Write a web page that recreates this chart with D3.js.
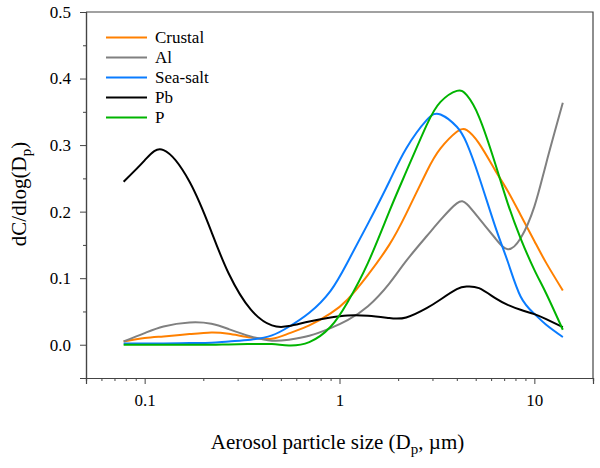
<!DOCTYPE html>
<html>
<head>
<meta charset="utf-8">
<script src="https://cdn.jsdelivr.net/npm/d3@7"></script>
<style>
  body { margin: 0; background: #fff; }
</style>
</head>
<body>
<svg id="chart" width="600" height="468"></svg>
<script>
// particle size (um) at which each curve was read
const sizes = [0.078, 0.1, 0.125, 0.17, 0.22, 0.27, 0.35, 0.45, 0.55, 0.7, 0.9, 1.1, 1.4,
               1.8, 2.2, 2.8, 3.3, 4.0, 4.5, 5.2, 6.3, 7.3, 8.5, 10, 11.5, 14];

const crustal = [0.005, 0.010, 0.0125, 0.016, 0.0185, 0.0165, 0.011, 0.009, 0.017, 0.029, 0.047, 0.068, 0.105,
                 0.150, 0.197, 0.260, 0.2950, 0.320, 0.3225, 0.3025, 0.262, 0.231, 0.195, 0.156, 0.123, 0.0815];
const al      = [0.005, 0.0175, 0.0275, 0.0335, 0.0315, 0.0235, 0.0125, 0.006, 0.0075, 0.0135, 0.025, 0.037, 0.058,
                 0.092, 0.126, 0.163, 0.1875, 0.2125, 0.2115, 0.190, 0.160, 0.1435, 0.160, 0.2075, 0.2725, 0.3635];
const seaSalt = [0.002, 0.002, 0.002, 0.0025, 0.003, 0.005, 0.0075, 0.014, 0.027, 0.048, 0.081, 0.124, 0.182,
                 0.245, 0.295, 0.3375, 0.346, 0.3275, 0.3025, 0.2525, 0.1775, 0.125, 0.0725, 0.0465, 0.030, 0.0115];
const pb      = [0.245, 0.277, 0.2925, 0.245, 0.170, 0.107, 0.053, 0.029, 0.028, 0.035, 0.041, 0.044, 0.0435,
                 0.040, 0.041, 0.055, 0.068, 0.0835, 0.0875, 0.085, 0.070, 0.060, 0.0525, 0.046, 0.0385, 0.0265];
const p       = [0.000, 0.000, 0.000, 0.000, 0.000, 0.0005, 0.001, 0.001, -0.001, 0.004, 0.027, 0.064, 0.123,
                 0.200, 0.260, 0.330, 0.365, 0.3815, 0.375, 0.3425, 0.272, 0.2125, 0.160, 0.1125, 0.077, 0.0225];

const seriesNames = ["Crustal", "Al", "Sea-salt", "Pb", "P"];
const seriesColors = ["#ff8000", "#808080", "#0a7cff", "#000000", "#00b400"];
const seriesValues = [crustal, al, seaSalt, pb, p];

const xMajor = [0.1, 1, 10];
const yTicks = [0.0, 0.1, 0.2, 0.3, 0.4, 0.5];

const serif = '"Liberation Serif", "DejaVu Serif", "Times New Roman", Times, serif';

const width = 600, height = 468;
const margin = {top: 12, right: 7, bottom: 90, left: 86};
const innerW = width - margin.left - margin.right;
const innerH = height - margin.top - margin.bottom;

const svg = d3.select("#chart").style("font-family", serif);
const g = svg.append("g").attr("transform", `translate(${margin.left},${margin.top})`);

const x = d3.scaleLog().domain([0.05, 20]).range([0, innerW]);
const y = d3.scaleLinear().domain([-0.05, 0.5]).range([innerH, 0]);

// minor ticks: every integer multiple within each decade
const xMinor = [];
[0.01, 0.1, 1, 10].forEach(dec => {
  for (let k = 1; k <= 9; k++) {
    const v = +(dec * k).toPrecision(3);
    if (v >= 0.05 && v <= 20 && !xMajor.includes(v)) xMinor.push(v);
  }
});
const yMinor = d3.range(-0.05, 0.5, 0.1).map(v => +v.toFixed(2));

const axisColor = "#444";

// x axis
const xAxisMinor = g.append("g").attr("transform", `translate(0,${innerH})`)
  .call(d3.axisBottom(x).tickValues(xMinor).tickSize(3).tickFormat(""));
const xAxisMajor = g.append("g").attr("transform", `translate(0,${innerH})`)
  .call(d3.axisBottom(x).tickValues(xMajor).tickSize(6).tickPadding(10).tickFormat(d3.format("")));

// y axis
const yAxisMinor = g.append("g")
  .call(d3.axisLeft(y).tickValues(yMinor).tickSize(3).tickFormat(""));
const yAxisMajor = g.append("g")
  .call(d3.axisLeft(y).tickValues(yTicks).tickSize(6).tickPadding(9).tickFormat(d3.format(".1f")));

[xAxisMinor, xAxisMajor, yAxisMinor, yAxisMajor].forEach(a => {
  a.attr("font-family", null).attr("font-size", null);
  a.select(".domain").attr("stroke", axisColor).attr("stroke-width", 1.2);
  a.selectAll(".tick line").attr("stroke", axisColor).attr("stroke-width", 1);
  a.selectAll(".tick text")
    .style("font-family", serif)
    .style("font-size", "17px")
    .attr("fill", "#000");
});

// frame top and right
g.append("path")
  .attr("d", `M0,0H${innerW}V${innerH}`)
  .attr("fill", "none").attr("stroke", axisColor).attr("stroke-width", 1.2);

// curves (smooth spline through the read points)
const line = d3.line()
  .x((d, i) => x(sizes[i]))
  .y(d => y(d))
  .curve(d3.curveNatural);

g.selectAll(".series")
  .data(seriesValues)
  .join("path")
    .attr("class", "series")
    .attr("fill", "none")
    .attr("stroke", (d, i) => seriesColors[i])
    .attr("stroke-width", 2)
    .attr("d", line);

// legend
const legend = g.append("g").attr("transform", "translate(20,25.5)");
const rows = legend.selectAll("g")
  .data(seriesNames)
  .join("g")
    .attr("transform", (d, i) => `translate(0,${i * 20})`);
rows.append("line")
  .attr("x1", 0).attr("x2", 41)
  .attr("stroke", (d, i) => seriesColors[i])
  .attr("stroke-width", 2);
rows.append("text")
  .attr("x", 49).attr("dy", "0.35em")
  .style("font-family", serif)
  .style("font-size", "17px")
  .text(d => d);

// axis titles
const xTitle = svg.append("text")
  .attr("x", margin.left + innerW / 2 - 2)
  .attr("y", 449)
  .attr("text-anchor", "middle")
  .style("font-family", serif)
  .style("font-size", "21px");
xTitle.append("tspan").text("Aerosol particle size (D");
xTitle.append("tspan").attr("dy", 5).style("font-size", "15px").text("p");
xTitle.append("tspan").attr("dy", -5).text(", \u00b5m)");

const yTitle = svg.append("text")
  .attr("transform", `translate(26,${margin.top + innerH / 2 - 1}) rotate(-90)`)
  .attr("text-anchor", "middle")
  .style("font-family", serif)
  .style("font-size", "21px");
yTitle.append("tspan").text("dC/dlog(D");
yTitle.append("tspan").attr("dy", 5).style("font-size", "15px").text("p");
yTitle.append("tspan").attr("dy", -5).text(")");
</script>
</body>
</html>
